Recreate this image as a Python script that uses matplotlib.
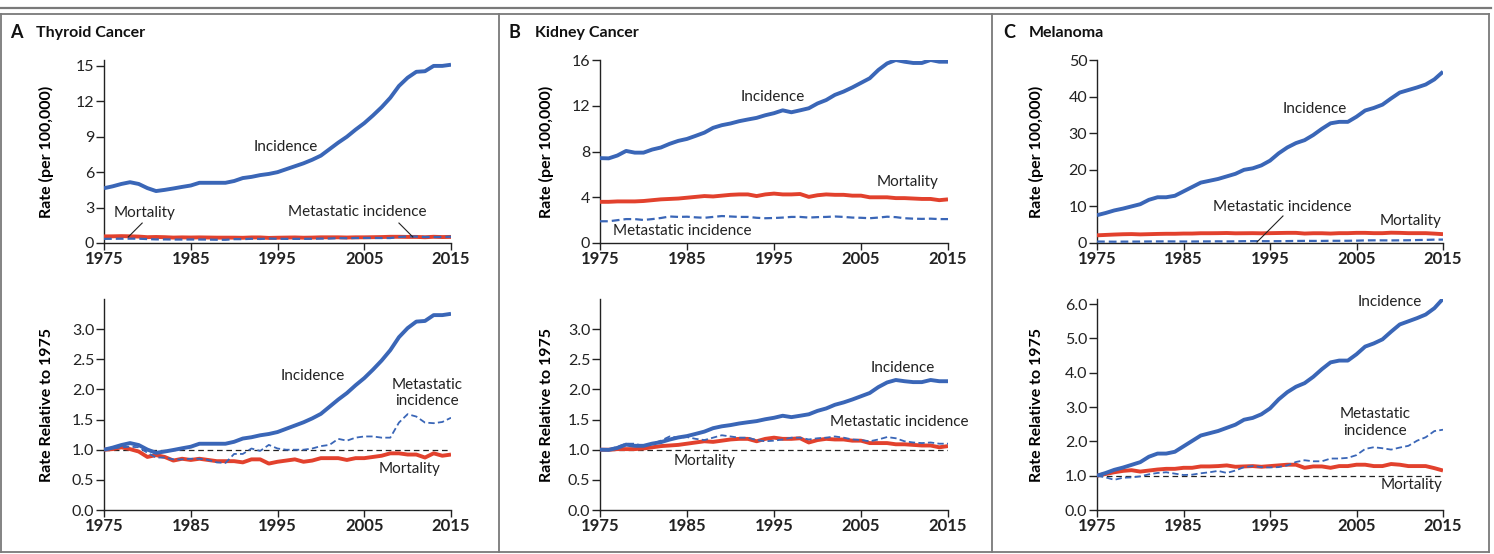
import matplotlib
matplotlib.use("Agg")
import matplotlib.pyplot as plt
from matplotlib.lines import Line2D
import numpy as np

years = list(range(1975, 2016))

# ---- Thyroid ----
thyroid_incidence = [4.64, 4.8, 5.0, 5.15, 5.0, 4.65, 4.4, 4.5, 4.62, 4.75, 4.87, 5.1, 5.1, 5.1, 5.1, 5.25,
                     5.5, 5.6, 5.75, 5.85, 6.0, 6.25, 6.5, 6.75, 7.05, 7.4, 7.95, 8.5, 9.0, 9.6, 10.15,
                     10.8, 11.5, 12.3, 13.3, 14.0, 14.5, 14.55, 15.0, 15.0, 15.1]
thyroid_mort_base = 0.56
thyroid_mort_rel = [1.0, 1.01, 1.04, 1.01, 0.97, 0.88, 0.91, 0.88, 0.82, 0.85, 0.83, 0.85, 0.83, 0.81, 0.81, 0.81,
                    0.79, 0.84, 0.84, 0.77, 0.80, 0.82, 0.84, 0.80, 0.82, 0.86, 0.86, 0.86, 0.83, 0.86, 0.86,
                    0.88, 0.90, 0.94, 0.94, 0.92, 0.92, 0.87, 0.94, 0.90, 0.92]
thyroid_met_base = 0.35
thyroid_met_rel = [1.0, 1.02, 1.04, 1.05, 1.04, 0.95, 0.87, 0.87, 0.84, 0.84, 0.85, 0.85, 0.83, 0.79, 0.78, 0.93,
                   0.93, 1.02, 0.98, 1.08, 1.02, 1.0, 1.0, 1.0, 1.02, 1.06, 1.08, 1.18, 1.15, 1.2, 1.22,
                   1.22, 1.2, 1.2, 1.45, 1.59, 1.55, 1.45, 1.44, 1.46, 1.53]

# ---- Kidney ----
kidney_incidence = [7.42, 7.4, 7.65, 8.05, 7.9, 7.9, 8.17, 8.35, 8.67, 8.93, 9.1, 9.37, 9.65, 10.07, 10.3, 10.45,
                    10.65, 10.8, 10.94, 11.17, 11.35, 11.6, 11.43, 11.6, 11.78, 12.2, 12.5, 12.95, 13.24, 13.6, 14.0,
                    14.4, 15.13, 15.7, 16.0, 15.85, 15.74, 15.74, 16.0, 15.85, 15.85]
kidney_mort_base = 3.6
kidney_mort_rel = [1.0, 1.0, 1.01, 1.01, 1.01, 1.02, 1.04, 1.06, 1.07, 1.08, 1.1, 1.12, 1.14, 1.13, 1.15, 1.17,
                   1.18, 1.18, 1.14, 1.18, 1.2, 1.18, 1.18, 1.19, 1.12, 1.16, 1.18, 1.17, 1.17, 1.15, 1.15,
                   1.11, 1.11, 1.11, 1.09, 1.09, 1.08, 1.07, 1.07, 1.04, 1.06]
kidney_met_base = 1.9
kidney_met_rel = [1.0, 1.0, 1.05, 1.1, 1.1, 1.06, 1.1, 1.15, 1.22, 1.2, 1.21, 1.18, 1.16, 1.2, 1.24, 1.22,
                  1.2, 1.2, 1.16, 1.14, 1.15, 1.17, 1.2, 1.2, 1.17, 1.19, 1.2, 1.22, 1.2, 1.17, 1.16,
                  1.14, 1.17, 1.21, 1.19, 1.14, 1.12, 1.11, 1.12, 1.1, 1.1]

# ---- Melanoma ----
melanoma_incidence = [7.6, 8.2, 8.9, 9.4, 10.0, 10.6, 11.8, 12.5, 12.5, 12.9, 14.1, 15.3, 16.5, 17.0, 17.5, 18.2,
                      18.9, 20.0, 20.4, 21.2, 22.5, 24.5, 26.1, 27.3, 28.1, 29.5, 31.2, 32.7, 33.1, 33.1, 34.5,
                      36.2, 36.9, 37.8, 39.5, 41.1, 41.8, 42.5, 43.3, 44.7, 46.8]
melanoma_mort_base = 2.1
melanoma_mort_rel = [1.0, 1.05, 1.1, 1.14, 1.16, 1.12, 1.15, 1.18, 1.2, 1.2, 1.23, 1.23, 1.27, 1.27, 1.28, 1.3,
                     1.26, 1.27, 1.28, 1.26, 1.28, 1.3, 1.32, 1.32, 1.23, 1.27, 1.27, 1.23, 1.28, 1.28, 1.32,
                     1.32, 1.28, 1.28, 1.34, 1.32, 1.28, 1.28, 1.28, 1.22, 1.15]
melanoma_met_base = 0.4
melanoma_met_rel = [1.0, 0.95, 0.88, 0.94, 0.95, 0.98, 1.04, 1.08, 1.1, 1.06, 1.02, 1.03, 1.07, 1.1, 1.14, 1.08,
                    1.15, 1.25, 1.28, 1.25, 1.24, 1.25, 1.3, 1.4, 1.45, 1.42, 1.42, 1.5, 1.5, 1.52, 1.6,
                    1.78, 1.83, 1.8, 1.76, 1.82, 1.87, 2.02, 2.12, 2.3, 2.34]

panel_letters = ["A", "B", "C"]
panel_titles = ["Thyroid Cancer", "Kidney Cancer", "Melanoma"]
top_yticks = [[0, 3, 6, 9, 12, 15], [0, 4, 8, 12, 16], [0, 10, 20, 30, 40, 50]]
top_ylims = [15.5, 16.0, 50.0]
bot_yticks = [[0.0, 0.5, 1.0, 1.5, 2.0, 2.5, 3.0], [0.0, 0.5, 1.0, 1.5, 2.0, 2.5, 3.0],
              [0.0, 1.0, 2.0, 3.0, 4.0, 5.0, 6.0]]
bot_ylims = [3.5, 3.5, 6.15]
xticks = [1975, 1985, 1995, 2005, 2015]

BLUE = "#3a66b7"
RED = "#e2412d"
FONT = "Lato"
plt.rcParams["font.family"] = [FONT, "DejaVu Sans"]

W, H = 1494, 554
fig = plt.figure(figsize=(W / 100, H / 100), dpi=100)

def fx(px):
    return px / W

def fy(py):
    return 1 - py / H

# frame lines
gray = "#7a7a7a"
fig.add_artist(Line2D([0, fx(1491)], [fy(7.5), fy(7.5)], color=gray, lw=1.6))
fig.add_artist(Line2D([0, fx(1489)], [fy(13.5), fy(13.5)], color=gray, lw=1.3))
for xp in [1.5, 498.5, 991.5, 1488.5]:
    fig.add_artist(Line2D([fx(xp), fx(xp)], [fy(13.5), fy(552)], color=gray, lw=1.3))
fig.add_artist(Line2D([fx(1.5), fx(1488.5)], [fy(552), fy(552)], color=gray, lw=1.3))

lefts_px = [104, 600, 1097]
widths_px = [347, 348, 346]
ylabel_x_px = [54, 554, 1044]
letter_x_px = [10, 509, 1003]
title_x_px = [36, 535, 1029]

inc_all = [thyroid_incidence, kidney_incidence, melanoma_incidence]
mort_base_all = [thyroid_mort_base, kidney_mort_base, melanoma_mort_base]
mort_rel_all = [thyroid_mort_rel, kidney_mort_rel, melanoma_mort_rel]
met_base_all = [thyroid_met_base, kidney_met_base, melanoma_met_base]
met_rel_all = [thyroid_met_rel, kidney_met_rel, melanoma_met_rel]

def style_axes(ax, yticks, ylim, fmt):
    ax.set_xlim(1975, 2015)
    ax.set_ylim(0, ylim)
    for s in ["top", "right"]:
        ax.spines[s].set_visible(False)
    for s in ["left", "bottom"]:
        ax.spines[s].set_linewidth(1.0)
        ax.spines[s].set_color("#222222")
    ax.set_xticks(xticks)
    ax.set_xticklabels([str(x) for x in xticks], fontweight="bold", fontsize=12)
    ax.set_yticks(yticks)
    ax.set_yticklabels([fmt(v) for v in yticks], fontsize=11.5)
    ax.tick_params(axis="x", direction="out", length=5, width=1.0, pad=1, colors="#222222")
    ax.tick_params(axis="y", direction="out", length=6, width=1.0, pad=1, colors="#222222")
    ax.patch.set_alpha(0)

txt_kw = dict(fontsize=11, color="#222222", ha="center", va="center")

for i in range(3):
    left = fx(lefts_px[i])
    width = fx(widths_px[i])
    ax_t = fig.add_axes([left, fy(243), width, (243 - 60) / H])
    ax_b = fig.add_axes([left, fy(510), width, (510 - 299) / H])

    inc = np.array(inc_all[i])
    mort_rel = np.array(mort_rel_all[i])
    met_rel = np.array(met_rel_all[i])
    mort = mort_rel * mort_base_all[i]
    met = met_rel * met_base_all[i]
    inc_rel = inc / inc[0]

    # top: rates
    ax_t.plot(years, mort, color=RED, lw=2.8, solid_capstyle="butt", zorder=3)
    ax_t.plot(years, inc, color=BLUE, lw=2.8, solid_capstyle="butt", zorder=4)
    ax_t.plot(years, met, color=BLUE, lw=1.6, dashes=(3.5, 1.8), zorder=5)
    fmt_t = lambda v: f"{v:g}"
    style_axes(ax_t, top_yticks[i], top_ylims[i], fmt_t)

    # bottom: relative
    ax_b.axhline(1.0, color="#222222", lw=0.9, dashes=(4.5, 3), zorder=2)
    ax_b.plot(years, mort_rel, color=RED, lw=2.8, solid_capstyle="butt", zorder=3)
    ax_b.plot(years, inc_rel, color=BLUE, lw=2.8, solid_capstyle="butt", zorder=4)
    ax_b.plot(years, met_rel, color=BLUE, lw=1.3, dashes=(3.5, 1.8), zorder=5)
    fmt_b = lambda v: f"{v:.1f}"
    style_axes(ax_b, bot_yticks[i], bot_ylims[i], fmt_b)

    lx = (ylabel_x_px[i] - lefts_px[i]) / widths_px[i]
    ax_t.set_ylabel("Rate (per 100,000)", fontsize=11.5, fontweight="bold")
    ax_t.yaxis.set_label_coords(lx, 0.5)
    ax_b.set_ylabel("Rate Relative to 1975", fontsize=11.5, fontweight="bold")
    ax_b.yaxis.set_label_coords(lx, 0.5)

    fig.text(fx(letter_x_px[i]), fy(33), panel_letters[i], fontsize=13, fontweight="bold",
             ha="left", va="center", color="#111111")
    fig.text(fx(title_x_px[i]), fy(33), panel_titles[i], fontsize=11.5, fontweight="bold",
             ha="left", va="center", color="#111111")

    if i == 0:
        ax_t.text(1995.9, 8.13, "Incidence", **txt_kw)
        ax_t.text(1979.7, 2.54, "Mortality", **txt_kw)
        ax_t.plot([1979.4, 1977.8], [1.69, 0.51], color="#222222", lw=0.8, zorder=6)
        ax_t.text(2004.2, 2.63, "Metastatic incidence", **txt_kw)
        ax_t.plot([2009.0, 2010.6], [1.69, 0.51], color="#222222", lw=0.8, zorder=6)
        ax_b.text(1999.1, 2.22, "Incidence", **txt_kw)
        ax_b.text(2012.2, 1.94, "Metastatic\nincidence", linespacing=1.25, **txt_kw)
        ax_b.text(2010.2, 0.68, "Mortality", **txt_kw)
    elif i == 1:
        ax_t.text(1994.8, 12.76, "Incidence", **txt_kw)
        ax_t.text(2010.4, 5.33, "Mortality", **txt_kw)
        ax_t.text(1984.4, 1.05, "Metastatic incidence", **txt_kw)
        ax_b.text(2009.8, 2.35, "Incidence", **txt_kw)
        ax_b.text(2009.4, 1.46, "Metastatic incidence", **txt_kw)
        ax_b.text(1987.0, 0.81, "Mortality", **txt_kw)
    else:
        ax_t.text(2000.2, 36.6, "Incidence", **txt_kw)
        ax_t.text(1996.4, 9.84, "Metastatic incidence", **txt_kw)
        ax_t.plot([1996.5, 1993.5], [7.38, 0.27], color="#222222", lw=0.8, zorder=6)
        ax_t.text(2011.2, 6.0, "Mortality", **txt_kw)
        ax_b.text(2008.9, 6.06, "Incidence", **txt_kw)
        ax_b.text(2007.1, 2.55, "Metastatic\nincidence", linespacing=1.25, **txt_kw)
        ax_b.text(2011.4, 0.73, "Mortality", **txt_kw)

fig.savefig("out.png", dpi=100, facecolor="white")
